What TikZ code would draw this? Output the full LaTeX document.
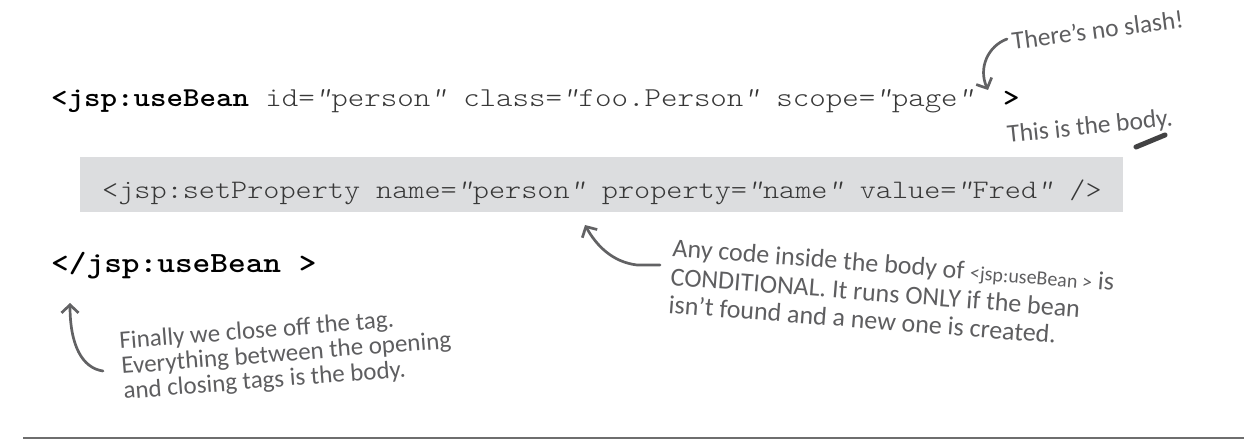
\documentclass[tikz,border=0pt]{standalone}
\usepackage{fontspec}
\newfontfamily\codefont{lmmonolt10-regular.otf}[BoldFont=lmmonolt10-bold.otf, ItalicFont=lmmonolt10-oblique.otf, FakeStretch=1.15]
\newfontfamily\handfont{Carlito}
\newcommand\cq{{\itshape"}}
\usetikzlibrary{arrows.meta}
\definecolor{handgray}{HTML}{5E5E60}
\definecolor{arrowgray}{HTML}{626264}
\definecolor{boxgray}{HTML}{DCDDDF}
\definecolor{codeink}{HTML}{383838}
\definecolor{rulegray}{HTML}{6E6E6E}
\tikzset{
  codeline/.style={font={\codefont\fontsize{27.3}{30}\selectfont}, text=codeink, inner sep=0pt, anchor=base west},
  boxline/.style={font={\codefont\fontsize{26.7}{30}\selectfont}, text=codeink, inner sep=0pt, anchor=base west},
  closeline/.style={font={\codefont\fontsize{29.3}{32}\selectfont}, text=black, inner sep=0pt, anchor=base west},
  hand/.style={font={\handfont\fontsize{26}{28}\selectfont}, text=handgray, inner sep=0pt, anchor=base west},
  handsmall/.style={hand, font={\handfont\fontsize{25.5}{28}\selectfont}},
  handfin/.style={hand, font={\handfont\fontsize{25}{27}\selectfont}},
  notearrow/.style={draw=arrowgray, line width=2.7pt, line cap=round, line join=round,
    -{Straight Barb[length=8pt,width=17pt]}},
  bodybox/.style={fill=boxgray, draw=none, anchor=north west, inner sep=0pt,
    minimum width=1043pt, minimum height=55pt},
}
\begin{document}
\begin{tikzpicture}[x=1pt,y=-1pt]
\useasboundingbox (0,0) rectangle (1244,443);
% code
\node[codeline] (open) at (51,107) {\textbf{\color{black}<jsp:useBean} id=\cq person\cq{} class=\cq foo.Person\cq{} scope=\cq page\cq};
\node[codeline, text=black] (gt) at (1003,107) {\textbf{>}};
\node[bodybox] (box) at (80,157) {};
\node[boxline] (setprop) at (102,199) {<jsp:setProperty name=\cq person\cq{} property=\cq name\cq{} value=\cq Fred\cq{} />};
\node[closeline] (close) at (51,273) {\textbf{</jsp:useBean >}};
% rule
\draw[rulegray, line width=2.5pt] (23,438) -- (1244,438);
% annotation: no slash
\node[handsmall, rotate=7.5] (slash) at (1013,50) {There’s no slash!};
\coordinate (slashtail) at (1007,39);
\coordinate (slashtip) at (988,90);
\draw[notearrow] (slashtail) .. controls (988,46) and (978,68) .. (slashtip);
% annotation: body
\node[handsmall, rotate=6] (bodynote) at (1008,143) {This is the body.};
\draw[handgray!70!black, line width=5pt, line cap=round] (1136,147) -- (1165,135);
% annotation: conditional
\node[hand, rotate=-4.5] (any1) at (672,256) {Any code inside the body of {\fontsize{20}{20}\selectfont <jsp:useBean >} is};
\node[hand, rotate=-4.5] (any2) at (670,285) {CONDITIONAL. It runs ONLY if the bean};
\node[hand, rotate=-4.5] (any3) at (668,313) {isn’t found and a new one is created.};
\coordinate (anytail) at (660,265);
\coordinate (anytip) at (585,225);
\draw[notearrow] (anytail) -- (637,265) .. controls (612,262) and (596,245) .. (anytip);
% annotation: finally
\node[handfin, rotate=4.5] (fin1) at (120,349) {Finally we close off the tag.};
\node[handfin, rotate=4.5] (fin2) at (122,374) {Everything between the opening};
\node[handfin, rotate=4.5] (fin3) at (124,399) {and closing tags is the body.};
\coordinate (fintail) at (103,371);
\coordinate (fintip) at (70,303);
\draw[notearrow] (fintail) .. controls (82,368) and (70,345) .. (fintip);
\end{tikzpicture}
\end{document}
